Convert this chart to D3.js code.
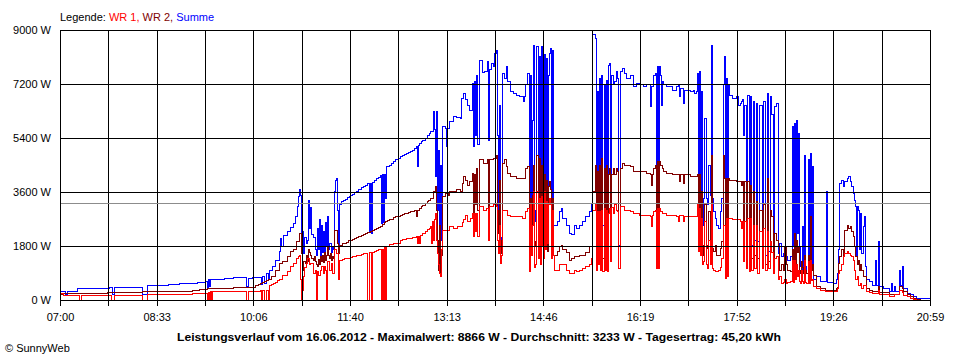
<!DOCTYPE html>
<html><head><meta charset="utf-8">
<script src="https://cdn.jsdelivr.net/npm/d3@7"></script>
<style>
html,body{margin:0;padding:0;background:#fff;}
svg{display:block;}
text{font-family:"Liberation Sans",Arial,sans-serif;font-size:11px;}
</style></head><body>
<svg id="chart" width="960" height="360"></svg>
<script>
// [minutes after 07:00, watts]
const summe = [[0,280],[5,180],[7,280],[17,370],[46,390],[48,420],[51,200],[53,420],[80,200],[84,470],[96,500],[105,520],[115,540],[128,555],[133,580],[137,600],[140,620],[142,420],[143,680],[144,450],[145,690],[150,700],[159,720],[167,740],[180,440],[182,720],[186,740],[191,760],[194,520],[195,800],[197,560],[199,870],[201,700],[202,1000],[205,1110],[208,1330],[212,1610],[213,2050],[214,1800],[216,2150],[219,2280],[222,2420],[225,2560],[227,2780],[229,3110],[230,3440],[231,3670],[232,3500],[233,1900],[234,2300],[235,1560],[236,2100],[238,1900],[239,2000],[240,3330],[241,2400],[242,3100],[243,2200],[244,2100],[246,1700],[247,1500],[248,2400],[249,1700],[250,2670],[251,1400],[252,2500],[253,1600],[254,2300],[255,1500],[256,2600],[257,1800],[258,2780],[259,1700],[260,1900],[262,1600],[263,1760],[264,1700],[265,3610],[266,4000],[267,4060],[268,3000],[269,1780],[270,3200],[271,3280],[273,3320],[275,3360],[277,3410],[279,3450],[280,3470],[282,3520],[284,3570],[286,3620],[288,3670],[289,3700],[291,3740],[293,3790],[295,3830],[297,3880],[298,2300],[299,3900],[300,2230],[301,3930],[303,3990],[305,4040],[307,4100],[309,4150],[310,2560],[311,4180],[312,2600],[313,4200],[314,3400],[315,4440],[318,4500],[320,4560],[322,4610],[324,4670],[326,4720],[328,4780],[330,4810],[332,4840],[334,4880],[336,4910],[338,4940],[340,5000],[342,5050],[344,5110],[345,4440],[346,5150],[347,5220],[349,5290],[350,5320],[352,5390],[354,5480],[356,5560],[357,5610],[360,6280],[361,5700],[362,4110],[363,6280],[364,3000],[365,5000],[366,1900],[367,4500],[368,2000],[369,5780],[372,5720],[373,5110],[374,5720],[376,5940],[379,6110],[382,6080],[386,6060],[387,6720],[389,6890],[391,6700],[393,6500],[395,6330],[398,7220],[399,5110],[400,7300],[401,5500],[402,7500],[403,5200],[405,8000],[407,7600],[409,7610],[412,7940],[413,5330],[414,7670],[416,7900],[418,7800],[419,8220],[421,8330],[422,5500],[423,2400],[424,6500],[425,1900],[426,2100],[427,7560],[429,7400],[431,7780],[432,7300],[434,6940],[437,6900],[440,6830],[443,6800],[446,6780],[447,6610],[448,6800],[449,7170],[451,7560],[453,2390],[454,7500],[455,2610],[456,6000],[457,8500],[458,3000],[459,2610],[460,8440],[461,3170],[462,8110],[463,2720],[464,8440],[465,3500],[466,2500],[467,8170],[468,2940],[469,8060],[470,2610],[471,7500],[472,8220],[473,8390],[474,2500],[475,8330],[476,2500],[480,2610],[482,2940],[484,3060],[485,2720],[488,2500],[491,2220],[493,2170],[496,2500],[498,2390],[501,2500],[504,2610],[507,2780],[511,2940],[513,3170],[514,8866],[516,8720],[517,3610],[518,6940],[519,3060],[520,7390],[521,2940],[522,7500],[523,2500],[525,7170],[526,2720],[527,7330],[528,2280],[529,7830],[530,7890],[531,2940],[532,7500],[534,7170],[535,7280],[537,7610],[538,7390],[539,1830],[541,7610],[542,7720],[544,7560],[546,7390],[550,7500],[553,7110],[556,7220],[559,7170],[563,7110],[566,7170],[569,6440],[570,7110],[572,7500],[574,7560],[575,2500],[576,7780],[577,2600],[578,7780],[579,7500],[580,6500],[581,7280],[582,7170],[585,7110],[588,7110],[591,7000],[595,7110],[596,7170],[597,6780],[598,7060],[601,6560],[602,7000],[604,7000],[608,6940],[611,7000],[612,6890],[614,6940],[615,7560],[616,2940],[617,7610],[618,3280],[619,6940],[620,2500],[621,3390],[622,6060],[623,3390],[624,3170],[625,4500],[627,3500],[628,8500],[629,3390],[630,2940],[632,2720],[633,2500],[635,2390],[637,2940],[638,3390],[640,7170],[641,8110],[642,2060],[643,7390],[644,2060],[645,7170],[646,6830],[649,6720],[652,6780],[654,6500],[656,6560],[657,6610],[658,6670],[659,5500],[660,6500],[662,1940],[663,6830],[665,2060],[666,6780],[667,1830],[669,6610],[670,2000],[672,6560],[673,1940],[675,6500],[677,2060],[678,6610],[680,1500],[682,6890],[683,1610],[685,6780],[686,6170],[688,1780],[689,6440],[691,6560],[693,1560],[694,1890],[696,1440],[698,1560],[699,1330],[701,1440],[702,1330],[704,1440],[706,5780],[707,1780],[708,5890],[709,1700],[710,6000],[711,2220],[712,5560],[713,1780],[714,1110],[715,890],[716,2440],[717,1000],[718,4830],[719,1110],[720,890],[722,4670],[723,890],[724,4890],[725,1110],[726,4440],[727,670],[730,780],[733,610],[738,610],[739,3610],[740,600],[743,580],[746,555],[749,670],[750,890],[751,1670],[752,3890],[754,4000],[756,3780],[757,3940],[759,4060],[760,4110],[762,3940],[763,3780],[765,3560],[766,3330],[767,3110],[768,1440],[769,3110],[770,3000],[771,1670],[772,2890],[773,1560],[775,2440],[776,2780],[777,1110],[778,670],[781,610],[784,500],[786,1330],[787,500],[789,1940],[790,440],[794,390],[800,280],[802,555],[803,300],[805,440],[806,300],[810,1000],[811,500],[812,1110],[813,400],[817,220],[820,170],[823,110],[826,55],[833,40],[837,55],[839,0]];

const wr2 = [[0,170],[2,220],[46,250],[80,280],[128,330],[135,360],[142,390],[167,430],[180,420],[186,410],[189,470],[191,510],[193,555],[195,590],[197,620],[199,650],[201,680],[203,700],[204,780],[208,1000],[212,1220],[215,1280],[219,1440],[222,1610],[225,1670],[228,1940],[231,2220],[233,1560],[234,1000],[235,1300],[237,1220],[238,1500],[239,1300],[240,1670],[241,1600],[242,1500],[243,1400],[244,1330],[245,1450],[246,1300],[247,1200],[248,1110],[249,1350],[250,1200],[251,1440],[252,1300],[253,1500],[254,1250],[255,1600],[256,1330],[257,1500],[258,1780],[259,1500],[260,1400],[261,1550],[262,1330],[263,1450],[264,1400],[265,2330],[267,2330],[268,1900],[269,1560],[270,1830],[272,1870],[274,1900],[276,1930],[278,1970],[280,2000],[282,2030],[284,2060],[286,2090],[288,2110],[289,2130],[291,2160],[293,2190],[295,2220],[297,2250],[299,2280],[301,2310],[303,2350],[305,2380],[307,2420],[309,2450],[311,2510],[313,2570],[314,2610],[316,2640],[318,2670],[320,2700],[322,2740],[324,2770],[326,2800],[328,2830],[330,2850],[332,2870],[334,2900],[336,2920],[338,2940],[340,2960],[342,2970],[344,2780],[345,2980],[347,3060],[349,3120],[350,3160],[352,3220],[354,3280],[355,3330],[357,3400],[360,3610],[362,3780],[363,3000],[364,2000],[365,1000],[366,2500],[367,890],[368,1500],[369,3440],[372,3560],[375,3500],[376,3610],[382,3670],[386,3610],[388,3890],[389,4110],[391,4000],[393,3830],[395,3950],[398,4220],[399,2890],[400,4200],[401,3200],[402,4400],[403,3000],[405,4670],[408,4550],[412,4670],[413,2890],[414,4670],[418,4720],[421,4830],[422,3000],[423,2220],[424,4000],[425,1560],[426,2000],[427,4560],[429,4670],[431,4440],[432,4220],[434,4110],[440,4060],[446,4060],[449,4390],[451,4440],[453,1500],[454,3390],[455,1610],[456,3500],[457,4500],[458,1940],[459,1800],[460,4830],[461,1830],[462,4720],[463,1700],[464,4500],[465,3000],[466,1720],[467,4170],[468,1800],[469,4000],[470,1610],[471,3800],[472,3940],[473,3700],[474,1940],[475,3390],[476,1500],[480,1610],[482,1780],[484,1830],[485,1700],[488,1600],[491,1330],[493,1390],[496,1440],[501,1500],[504,1500],[507,1600],[511,1780],[513,1800],[514,3610],[516,4500],[517,2500],[518,4280],[519,1940],[520,4500],[521,1610],[522,4720],[523,1390],[525,4390],[526,2280],[527,4500],[528,1500],[529,4170],[530,4390],[531,2000],[532,4170],[534,4390],[535,4170],[537,4390],[538,4300],[539,1800],[541,4390],[542,4560],[544,4500],[546,4500],[550,4440],[553,4280],[556,4300],[559,4280],[566,4220],[569,4170],[570,3830],[571,4170],[572,4390],[574,4500],[575,1390],[576,4610],[577,1450],[578,4610],[579,4500],[581,4400],[582,4280],[585,4220],[591,4170],[595,4170],[597,3940],[598,4170],[601,3900],[602,4170],[604,4170],[608,4110],[614,4110],[615,4170],[616,1830],[617,4170],[618,1610],[619,3610],[620,1500],[621,1830],[622,3170],[623,1830],[624,1720],[625,2940],[627,1940],[628,4830],[629,1720],[630,1610],[632,1830],[633,1500],[635,1500],[637,1720],[638,1940],[640,4830],[641,4060],[642,1610],[643,4060],[644,1390],[645,4060],[646,4000],[652,3940],[657,3830],[658,3940],[659,2060],[660,3940],[662,1390],[663,3940],[665,1170],[666,3830],[667,1390],[669,3610],[670,1500],[672,3300],[673,1400],[675,3000],[677,1300],[678,3170],[680,1200],[682,4060],[683,1300],[685,3000],[686,2780],[688,1000],[689,2220],[691,2000],[693,1780],[694,1000],[696,1200],[698,1000],[699,1780],[701,1200],[702,1000],[704,940],[706,1700],[707,1000],[708,2220],[709,1200],[710,2000],[711,1600],[712,1800],[713,1000],[714,900],[715,1300],[716,1100],[717,900],[718,1500],[719,1000],[720,900],[722,1500],[723,900],[724,2780],[725,1000],[726,1200],[727,830],[730,440],[733,390],[738,330],[749,380],[750,420],[751,1220],[752,1440],[754,1670],[756,1440],[757,2330],[759,2500],[760,2400],[762,2440],[763,2300],[765,2110],[766,1800],[767,1440],[769,1200],[770,1330],[771,1000],[772,1200],[773,1000],[775,780],[778,390],[781,330],[784,280],[789,440],[790,260],[794,245],[800,170],[805,200],[810,440],[812,400],[813,280],[817,170],[820,120],[823,55],[826,30],[830,0],[839,0]];

const wr1 = [[0,220],[3,140],[19,0],[21,140],[48,150],[50,0],[53,150],[80,0],[84,200],[128,230],[142,0],[143,250],[144,0],[145,280],[146,0],[147,300],[180,0],[182,300],[193,330],[194,0],[195,330],[197,0],[199,330],[201,0],[202,500],[204,530],[206,560],[208,600],[210,640],[212,670],[215,830],[219,940],[222,1110],[225,1220],[228,1390],[230,1440],[231,1500],[232,670],[233,0],[234,330],[235,800],[236,1100],[238,1220],[239,1390],[241,1170],[242,1220],[244,890],[246,1000],[247,0],[248,950],[249,830],[251,1000],[252,1110],[254,890],[255,1110],[256,1000],[257,0],[258,1280],[260,1000],[262,1220],[263,890],[265,1670],[267,1560],[269,670],[270,1330],[272,1350],[274,1370],[276,1380],[278,1400],[280,1420],[282,1440],[284,1450],[286,1470],[288,1490],[289,1500],[291,1520],[293,1540],[295,1560],[297,0],[298,1580],[300,0],[301,1600],[303,1620],[305,1640],[307,1670],[309,1690],[310,0],[311,1700],[312,0],[313,1750],[314,0],[315,1780],[318,1850],[320,1860],[322,1870],[325,1890],[328,2000],[330,2010],[332,2020],[334,2040],[336,2050],[338,2060],[340,2070],[342,2090],[344,2110],[345,1890],[346,2110],[347,1890],[348,2150],[350,2210],[352,2280],[354,2340],[356,2400],[357,2440],[358,1900],[359,2610],[360,2000],[361,2700],[362,2890],[363,2000],[364,1560],[365,1200],[366,890],[367,780],[368,1700],[369,2330],[376,2440],[379,2400],[383,2440],[388,2600],[389,2700],[391,2830],[393,2610],[396,2720],[398,2890],[399,2110],[400,2890],[401,2300],[402,2900],[403,2110],[405,3110],[408,3000],[411,3060],[413,2000],[414,3110],[418,3170],[421,3110],[422,2000],[423,1560],[424,2500],[425,1220],[426,1500],[427,3000],[429,3000],[432,2830],[434,2780],[440,2780],[446,2720],[449,2940],[451,3060],[453,940],[454,3170],[455,1500],[456,2500],[457,3610],[458,1100],[459,1170],[460,3610],[461,1390],[462,3390],[463,1170],[464,3440],[465,1800],[466,1390],[467,3610],[468,1700],[469,3300],[470,1900],[471,3170],[472,3400],[473,3170],[474,1390],[475,3000],[476,1500],[477,1000],[482,1170],[485,1170],[488,1000],[491,890],[496,1000],[498,950],[501,1000],[504,1050],[507,1110],[511,1190],[513,1390],[514,3000],[516,3170],[517,1000],[518,2940],[519,1170],[520,2960],[521,1000],[522,3000],[523,940],[525,3060],[526,1000],[527,3000],[528,940],[529,2900],[530,3060],[531,1300],[532,3100],[534,2900],[535,3170],[537,3000],[538,2940],[539,1060],[541,3110],[544,3000],[550,2940],[553,2890],[559,2830],[569,2780],[570,2450],[571,2830],[572,2940],[574,3000],[575,1060],[576,3060],[577,1060],[578,3060],[579,2940],[581,2890],[585,2830],[595,2780],[596,2610],[597,2830],[601,2610],[602,2800],[614,2780],[615,3170],[616,1610],[617,3060],[618,1500],[619,2720],[620,1170],[621,1300],[622,2610],[623,1170],[624,1060],[625,2000],[627,1170],[628,3170],[629,1060],[630,1000],[632,940],[635,1000],[637,1100],[638,1400],[640,2500],[642,720],[643,2720],[644,800],[645,2720],[649,2700],[652,2670],[656,2610],[657,2390],[658,2610],[659,1300],[660,2610],[662,1060],[663,2720],[665,940],[666,2720],[667,1000],[669,2500],[670,1060],[672,2500],[673,900],[675,2280],[677,1060],[678,2400],[680,1000],[682,2280],[683,1060],[685,1940],[686,1600],[688,890],[689,1400],[691,1440],[693,670],[694,800],[696,555],[698,600],[699,700],[701,555],[702,600],[704,610],[706,1330],[707,600],[708,1330],[709,700],[710,1200],[711,800],[712,1000],[713,610],[714,555],[715,1000],[716,610],[717,560],[718,1330],[719,600],[720,560],[722,1300],[723,560],[724,1330],[725,650],[726,700],[727,440],[730,390],[733,330],[738,280],[749,300],[750,400],[751,890],[752,1000],[754,1200],[756,1450],[757,1560],[759,1610],[760,1560],[762,1500],[763,1450],[765,1330],[766,1000],[767,700],[769,800],[770,500],[772,550],[773,400],[775,500],[778,280],[781,250],[784,220],[789,330],[790,180],[794,170],[800,110],[805,200],[810,330],[812,250],[813,150],[817,110],[820,60],[823,20],[826,0],[839,0]];

const yTicks = [0, 1800, 3600, 5400, 7200, 9000];
const timeLabels = ["07:00","08:33","10:06","11:40","13:13","14:46","16:19","17:52","19:26","20:59"];
const average = 3233;
const legendParts = [["Legende: ","#000000"],["WR 1, ","#ff0000"],["WR 2, ","#800000"],["Summe","#0000ff"]];
const title = "Leistungsverlauf vom 16.06.2012 - Maximalwert: 8866 W - Durchschnitt: 3233 W - Tagesertrag: 45,20 kWh";
const credit = "\u00A9 SunnyWeb";

const svg = d3.select("#chart");
const x = d3.scaleLinear().domain([0, 839]).range([60, 930]);
const y = d3.scaleLinear().domain([0, 9000]).range([300, 30]);
const nGrid = (timeLabels.length - 1) * 2;
const gridMinutes = d3.range(nGrid + 1).map(i => i * 839 / nGrid);
const px = v => Math.round(v) + 0.5;

// series
const line = d3.line().x(d => x(d[0])).y(d => y(d[1])).curve(d3.curveStepAfter);
const series = [[summe, "#0000ff"], [wr2, "#800000"], [wr1, "#ff0000"]];
svg.append("g").selectAll("path").data(series).join("path")
  .attr("d", d => line(d[0]))
  .attr("fill", "none").attr("stroke", d => d[1]).attr("stroke-width", 1)
  .attr("shape-rendering", "crispEdges");

// grid
const g = svg.append("g").attr("shape-rendering", "crispEdges");
g.selectAll("line.h").data(yTicks).join("line").attr("class", "h")
  .attr("x1", 60).attr("x2", 931)
  .attr("y1", d => px(y(d))).attr("y2", d => px(y(d)))
  .attr("stroke", "#000");
g.selectAll("line.v").data(gridMinutes).join("line").attr("class", "v")
  .attr("x1", d => px(x(d))).attr("x2", d => px(x(d)))
  .attr("y1", 30).attr("y2", 306)
  .attr("stroke", "#000");

// average line
g.append("line").attr("x1", 61).attr("x2", 930)
  .attr("y1", px(y(average))).attr("y2", px(y(average)))
  .attr("stroke", "#8c8c8c");

// y labels
svg.append("g").selectAll("text").data(yTicks).join("text")
  .attr("x", 51).attr("y", d => y(d) + 4)
  .attr("text-anchor", "end").attr("fill", "#000")
  .text(d => d + " W");

// x labels
svg.append("g").selectAll("text").data(timeLabels).join("text")
  .attr("x", (d, i) => x(gridMinutes[i * 2]) + 0.5).attr("y", 321)
  .attr("text-anchor", "middle").attr("fill", "#000")
  .text(d => d);

// legend
const lg = svg.append("text").attr("x", 60).attr("y", 21).attr("xml:space", "preserve");
lg.selectAll("tspan").data(legendParts).join("tspan")
  .attr("fill", d => d[1]).text(d => d[0]).style("white-space", "pre");

// title
svg.append("text").attr("x", 479).attr("y", 341)
  .attr("text-anchor", "middle").attr("font-weight", "bold")
  .attr("textLength", 604).attr("lengthAdjust", "spacingAndGlyphs")
  .text(title);

// credit
svg.append("text").attr("x", 5).attr("y", 352).text(credit);
</script>
</body></html>
